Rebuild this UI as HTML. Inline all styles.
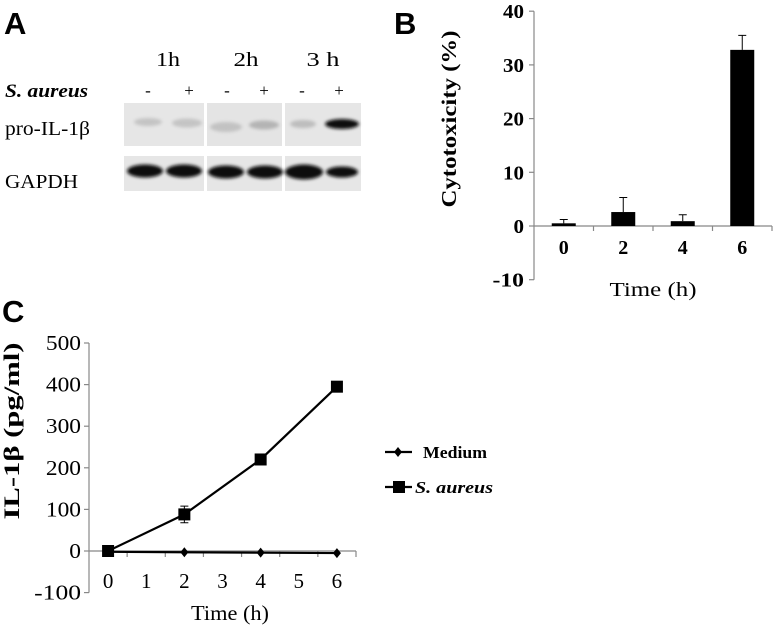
<!DOCTYPE html>
<html><head><meta charset="utf-8"><style>
html,body{margin:0;padding:0;background:#fff;}
svg{display:block;}
.serif{font-family:"Liberation Serif",serif;}
.sans{font-family:"Liberation Sans",sans-serif;}
</style></head><body>
<svg id="fig" width="774" height="627" viewBox="0 0 774 627" xmlns="http://www.w3.org/2000/svg">
<defs>
<filter id="blur" x="-30%" y="-100%" width="160%" height="300%"><feGaussianBlur stdDeviation="1.6"/></filter>
</defs>
<g>
<text x="4" y="34" class="sans" font-size="31" font-weight="bold">A</text>
<text x="168" y="66" class="serif" font-size="20" text-anchor="middle" textLength="24" lengthAdjust="spacingAndGlyphs">1h</text>
<text x="246" y="66" class="serif" font-size="20" text-anchor="middle" textLength="25" lengthAdjust="spacingAndGlyphs">2h</text>
<text x="323" y="66" class="serif" font-size="20" text-anchor="middle" textLength="33" lengthAdjust="spacingAndGlyphs">3 h</text>
<text x="5" y="97" class="serif" font-size="19" font-weight="bold" font-style="italic" textLength="83" lengthAdjust="spacingAndGlyphs">S. aureus</text>
<g class="serif" font-size="17" text-anchor="middle">
<text x="148" y="96">-</text><text x="189" y="96">+</text>
<text x="227" y="96">-</text><text x="264" y="96">+</text>
<text x="302" y="96">-</text><text x="339" y="96">+</text>
</g>
<text x="5" y="135" class="serif" font-size="20" textLength="85" lengthAdjust="spacingAndGlyphs">pro-IL-1β</text>
<text x="5" y="188" class="serif" font-size="20" textLength="73" lengthAdjust="spacingAndGlyphs">GAPDH</text>
<g>
<rect x="124" y="103" width="80" height="43" fill="#e6e6e6"/>
<rect x="207" y="103" width="75" height="43" fill="#e4e4e4"/>
<rect x="285" y="103" width="76" height="43" fill="#e6e6e6"/>
<g filter="url(#blur)">
<ellipse cx="148" cy="122" rx="14" ry="4" fill="#c4c4c4"/>
<ellipse cx="187" cy="123" rx="15" ry="4.5" fill="#c4c4c4"/>
<ellipse cx="226" cy="127" rx="16" ry="5" fill="#c2c2c2"/>
<ellipse cx="264" cy="125" rx="15" ry="4.5" fill="#b4b4b4"/>
<ellipse cx="303" cy="124" rx="13" ry="4" fill="#bdbdbd"/>
<ellipse cx="342" cy="124" rx="17" ry="5" fill="#111"/>
</g>
</g>
<g>
<rect x="124" y="156" width="80" height="35" fill="#e6e6e6"/>
<rect x="207" y="156" width="75" height="35" fill="#e6e6e6"/>
<rect x="285" y="156" width="76" height="35" fill="#e6e6e6"/>
<g filter="url(#blur)">
<ellipse cx="145" cy="171" rx="18" ry="6.5" fill="#0b0b0b"/>
<ellipse cx="184" cy="171" rx="18" ry="6.5" fill="#0b0b0b"/>
<ellipse cx="226" cy="172" rx="18" ry="6.5" fill="#0b0b0b"/>
<ellipse cx="265" cy="172" rx="18" ry="6.5" fill="#0b0b0b"/>
<ellipse cx="304" cy="172" rx="19" ry="7.5" fill="#0b0b0b"/>
<ellipse cx="342" cy="172" rx="16" ry="5.5" fill="#0b0b0b"/>
</g>
</g>
</g>
<text x="394" y="34" class="sans" font-size="31" font-weight="bold">B</text>
<text x="2" y="322" class="sans" font-size="31" font-weight="bold">C</text>
<g id="chartB"></g>
<g id="chartC"></g>
</svg>
<script>
const NS="http://www.w3.org/2000/svg";
// ---- Chart B data ----
const bCategories=["0","2","4","6"];
const bValues=[0.5,2.6,0.9,32.8];
const bErrors=[0.7,2.7,1.2,2.7];
const bTicks=[-10,0,10,20,30,40];
// ---- Chart C data ----
const cXTicks=[0,1,2,3,4,5,6];
const cYTicks=[-100,0,100,200,300,400,500];
const cTimes=[0,2,4,6];
const cMedium=[-2,-3,-4,-5];
const cAureus=[0,88,220,395];
const cAureusErr=[3,20,12,4];

function mk(parent,tag,attrs){const e=document.createElementNS(NS,tag);for(const k in attrs)e.setAttribute(k,attrs[k]);parent.appendChild(e);return e;}

// Chart B
(function(){
const g=document.getElementById('chartB');
const ax=534, yB=v=>226-(v)*5.37;
const x0=534, x1=772, band=(x1-x0)/bCategories.length;
const xB=i=>x0+band*(i+0.5);
let e=mk(g,'line',{x1:ax,y1:yB(40),x2:ax,y2:yB(-10),stroke:'#888','stroke-width':1.2});

e=mk(g,'line',{x1:x0,y1:yB(0),x2:x1,y2:yB(0),stroke:'#888','stroke-width':1.2});

bTicks.forEach(t=>{
 mk(g,'line',{x1:ax-5,y1:yB(t),x2:ax,y2:yB(t),stroke:'#888','stroke-width':1.2});
 const s=String(t);
 const tx=mk(g,'text',{x:ax-10,y:yB(t)+7,'text-anchor':'end','font-size':20,'font-weight':'bold',class:'serif',textLength:s.length*10.5,lengthAdjust:'spacingAndGlyphs'});
 tx.textContent=s;
 
});
for(let i=1;i<=bCategories.length;i++) mk(g,'line',{x1:x0+band*i,y1:yB(0),x2:x0+band*i,y2:yB(0)+5,stroke:'#888','stroke-width':1.2});
bCategories.forEach((c,i)=>{
 const x=xB(i), w=24;
 const er=mk(g,'path',{d:`M${x} ${yB(bValues[i])} V${yB(bValues[i]+bErrors[i])} M${x-4} ${yB(bValues[i]+bErrors[i])} H${x+4}`,stroke:'#000','stroke-width':1,fill:'none'});
 
 const r=mk(g,'rect',{x:x-w/2,y:yB(bValues[i]),width:w,height:yB(0)-yB(bValues[i]),fill:'#000'});
 
 const t=mk(g,'text',{x:x,y:254,'text-anchor':'middle','font-size':20,'font-weight':'bold',class:'serif'});
 t.textContent=c;
 
});
let t=mk(g,'text',{x:653,y:296,'text-anchor':'middle','font-size':20,class:'serif',textLength:87,lengthAdjust:'spacingAndGlyphs'});t.textContent='Time (h)';

t=mk(g,'text',{x:0,y:0,'text-anchor':'middle','font-size':21,'font-weight':'bold',class:'serif',textLength:177,lengthAdjust:'spacingAndGlyphs',transform:'translate(456,119) rotate(-90)'});t.textContent='Cytotoxicity (%)';

})();

// Chart C
(function(){
const g=document.getElementById('chartC');
const ax=89, x1=356, band=(x1-ax)/cXTicks.length;
const xC=v=>ax+band*(v+0.5);
const yC=v=>551-v*0.416;
let e=mk(g,'line',{x1:ax,y1:yC(500),x2:ax,y2:yC(-100),stroke:'#888','stroke-width':1.2});

e=mk(g,'line',{x1:ax,y1:yC(0),x2:x1,y2:yC(0),stroke:'#888','stroke-width':1.2});

cYTicks.forEach(t=>{
 mk(g,'line',{x1:ax-5,y1:yC(t),x2:ax,y2:yC(t),stroke:'#888','stroke-width':1.2});
 const s=String(t);
 const tx=mk(g,'text',{x:ax-8,y:yC(t)+7,'text-anchor':'end','font-size':21,class:'serif',textLength:s.length*11.7,lengthAdjust:'spacingAndGlyphs'});
 tx.textContent=s;
 
});
cXTicks.forEach((c,i)=>{
 mk(g,'line',{x1:ax+band*(i+1),y1:yC(0),x2:ax+band*(i+1),y2:yC(0)+6,stroke:'#888','stroke-width':1.2});
 const tx=mk(g,'text',{x:xC(c),y:588,'text-anchor':'middle','font-size':21,class:'serif'});
 tx.textContent=c;
 
});
const pts=(arr)=>cTimes.map((t,i)=>xC(t)+','+yC(arr[i])).join(' ');
let l=mk(g,'polyline',{points:pts(cMedium),fill:'none',stroke:'#000','stroke-width':2.2});

l=mk(g,'polyline',{points:pts(cAureus),fill:'none',stroke:'#000','stroke-width':2.2});

cTimes.forEach((t,i)=>{
 const x=xC(t),y=yC(cAureus[i]),e1=yC(cAureus[i]+cAureusErr[i]),e2=yC(cAureus[i]-cAureusErr[i]);
 const er=mk(g,'path',{d:`M${x} ${e1} V${e2} M${x-4} ${e1} H${x+4} M${x-4} ${e2} H${x+4}`,stroke:'#000','stroke-width':1,fill:'none'});
 
 const m=mk(g,'rect',{x:x-6,y:y-6,width:12,height:12,fill:'#000'});
 
 const ym=yC(cMedium[i]);
 const d=mk(g,'path',{d:`M${x} ${ym-5} L${x+4} ${ym} L${x} ${ym+5} L${x-4} ${ym} Z`,fill:'#000'});
 
});
let t=mk(g,'text',{x:230,y:620,'text-anchor':'middle','font-size':21,class:'serif',textLength:78,lengthAdjust:'spacingAndGlyphs'});t.textContent='Time (h)';

t=mk(g,'text',{x:0,y:0,'text-anchor':'middle','font-size':22,'font-weight':'bold',class:'serif',textLength:177,lengthAdjust:'spacingAndGlyphs',transform:'translate(19,431) rotate(-90)'});t.textContent='IL-1β (pg/ml)';

const lg=mk(g,'g',{});

let le=mk(lg,'line',{x1:385,y1:452,x2:412,y2:452,stroke:'#000','stroke-width':2.2});

mk(lg,'path',{d:'M398 447 L402 452 L398 457 L394 452 Z',fill:'#000'});
let lt=mk(lg,'text',{x:423,y:458,'font-size':17,'font-weight':'bold',class:'serif',textLength:64,lengthAdjust:'spacingAndGlyphs'});lt.textContent='Medium';

le=mk(lg,'line',{x1:385,y1:487,x2:412,y2:487,stroke:'#000','stroke-width':2.2});

mk(lg,'rect',{x:393,y:481,width:12,height:12,fill:'#000'});
lt=mk(lg,'text',{x:415,y:493,'font-size':17,'font-weight':'bold','font-style':'italic',class:'serif',textLength:78,lengthAdjust:'spacingAndGlyphs'});lt.textContent='S. aureus';

})();
</script>
</body></html>
